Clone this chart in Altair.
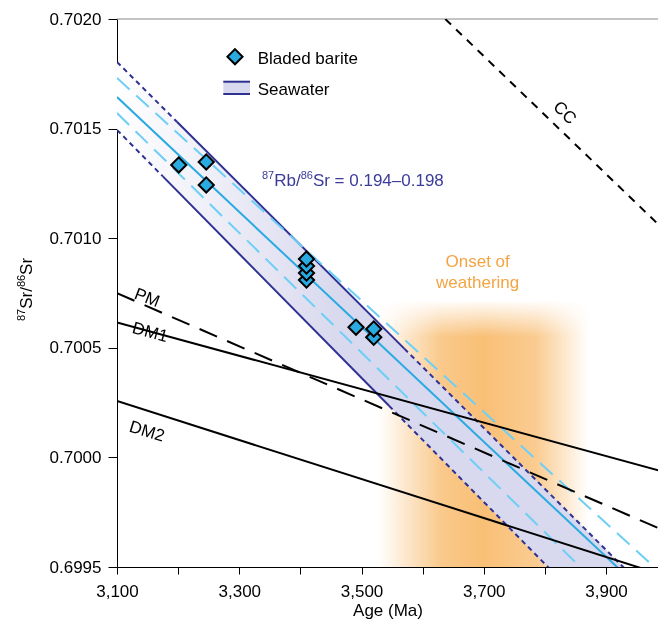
import altair as alt
import pandas as pd

# ---------------- data ----------------
X_DOMAIN = [3100, 3985]
Y_DOMAIN = [0.6995, 0.7020]

barite_age = [3201, 3246, 3246, 3410, 3410, 3410, 3410, 3491, 3520, 3520]
barite_sr = [0.701334, 0.701348, 0.701243, 0.700905, 0.700873, 0.700841,
             0.700809, 0.700594, 0.700586, 0.700548]

# reference reservoir lines (two read points each)
cc_age, cc_sr = [3637, 4000], [0.70200, 0.701024]
pm_age, pm_sr = [3100, 4000], [0.700749, 0.699660]
dm1_age, dm1_sr = [3100, 4000], [0.700616, 0.699930]
dm2_age, dm2_sr = [3100, 4000], [0.700257, 0.699457]

# seawater evolution lines (two read points each)
sw_up_age, sw_up_sr = [3100, 3928], [0.701804, 0.69950]
sw_lo_age, sw_lo_sr = [3100, 3805], [0.701494, 0.69950]
cyan_age, cyan_sr = [3100, 3918], [0.701644, 0.69950]
lb_up_age, lb_up_sr = [3100, 3972], [0.701731, 0.699518]
lb_lo_age, lb_lo_sr = [3100, 3858], [0.701571, 0.69950]

# age ranges where the band edges are solid
sw_up_solid = [3198, 3570]
sw_lo_solid = [3175, 3545]

# onset of weathering glow
onset_age = [3528, 3872]
onset_top = 0.70071
onset_fade = 0.70055

# label positions
line_labels = pd.DataFrame({
    "age": [3149, 3154, 3149, 3832],
    "sr": [0.700727, 0.700569, 0.700117, 0.701571],
    "text": ["PM", "DM1", "DM2", "CC"],
    "angle": [21, 15, 17, 44],
})

FONT = "Liberation Sans"
DARKBLUE = "#2e3192"
TEXTBLUE = "#3b3b9a"
CYAN = "#29abe2"
LIGHTBLUE = "#6dcff6"
LAVENDER = "#d8d8ee"
ORANGE_TXT = "#f3a443"

PLOT_W, PLOT_H = 541, 548


def seg(a, v, a_from, a_to):
    s = (v[1] - v[0]) / (a[1] - a[0])
    ages = [a_from, a_to]
    return pd.DataFrame({"age": ages, "sr": [v[0] + s * (t - a[0]) for t in ages]})


def at(a, v, t):
    s = (v[1] - v[0]) / (a[1] - a[0])
    return v[0] + s * (t - a[0])


xs = alt.Scale(domain=X_DOMAIN, nice=False, zero=False)
ys = alt.Scale(domain=Y_DOMAIN, nice=False, zero=False)

X = alt.X("age:Q", scale=xs, title="Age (Ma)",
          axis=alt.Axis(values=list(range(3100, 3901, 100)),
                        labelExpr="datum.value % 200 == 100 ? format(datum.value, ',') : ''",
                        labelFlush=False, labelOverlap=False,
                        tickSize=7, labelPadding=9, titlePadding=3))
Y = alt.Y("sr:Q", scale=ys, title=None,
          axis=alt.Axis(values=[0.6995, 0.7000, 0.7005, 0.7010, 0.7015, 0.7020],
                        format=".4f", tickSize=9, labelPadding=7,
                        labelFlush=False, labelOverlap=False))


def line_chart(df, color, width, dash=None):
    kw = dict(color=color, strokeWidth=width, clip=True)
    if dash:
        kw["strokeDash"] = dash
    return alt.Chart(df).mark_line(**kw).encode(x=X, y=Y)


one = pd.DataFrame({"k": [0]})
layers = []

# top frame line
layers.append(alt.Chart(one).mark_rule(color="#888888", strokeWidth=1).encode(
    x=alt.value(0), x2=alt.value(PLOT_W), y=alt.value(0)))

# onset of weathering: horizontal glow + white fade at top
onset_df = pd.DataFrame({"age": [onset_age[0]], "age2": [onset_age[1]],
                         "sr": [onset_top], "sr2": [Y_DOMAIN[0]]})
layers.append(alt.Chart(onset_df).mark_rect(
    color=alt.LinearGradient(gradient="linear", x1=0, x2=1, y1=0, y2=0, stops=[
        alt.GradientStop(color="rgba(249,191,118,0)", offset=0),
        alt.GradientStop(color="rgba(249,191,118,0.85)", offset=0.3),
        alt.GradientStop(color="rgba(249,191,118,1)", offset=0.5),
        alt.GradientStop(color="rgba(249,191,118,0.8)", offset=0.75),
        alt.GradientStop(color="rgba(249,191,118,0)", offset=1)])
).encode(x=X, x2="age2:Q", y=Y, y2="sr2:Q"))
fade_df = pd.DataFrame({"age": [onset_age[0]], "age2": [onset_age[1]],
                        "sr": [onset_top + 0.00001], "sr2": [onset_fade]})
layers.append(alt.Chart(fade_df).mark_rect(
    color=alt.LinearGradient(gradient="linear", x1=0, x2=0, y1=0, y2=1, stops=[
        alt.GradientStop(color="rgba(255,255,255,1)", offset=0),
        alt.GradientStop(color="rgba(255,255,255,0)", offset=1)])
).encode(x=X, x2="age2:Q", y=Y, y2="sr2:Q"))

# seawater band
band_ages = [3100, sw_lo_age[1], sw_up_age[1]]
band_df = pd.DataFrame({
    "age": band_ages,
    "sr": [at(sw_up_age, sw_up_sr, t) for t in band_ages],
    "sr2": [max(at(sw_lo_age, sw_lo_sr, t), Y_DOMAIN[0]) for t in band_ages],
})
layers.append(alt.Chart(band_df).mark_area(
    clip=True, blend="multiply",
    color=alt.LinearGradient(gradient="linear", x1=0, x2=1, y1=0, y2=0, stops=[
        alt.GradientStop(color="#ffffff", offset=0),
        alt.GradientStop(color=LAVENDER, offset=0.45),
        alt.GradientStop(color=LAVENDER, offset=1)])
).encode(x=X, y=Y, y2="sr2:Q"))

# band edges
layers.append(line_chart(seg(sw_up_age, sw_up_sr, 3100, sw_up_solid[0]), DARKBLUE, 2, [5, 4]))
layers.append(line_chart(seg(sw_up_age, sw_up_sr, *sw_up_solid), DARKBLUE, 2))
layers.append(line_chart(seg(sw_up_age, sw_up_sr, sw_up_solid[1], 4000), DARKBLUE, 2, [5, 4]))
layers.append(line_chart(seg(sw_lo_age, sw_lo_sr, 3100, sw_lo_solid[0]), DARKBLUE, 2, [5, 4]))
layers.append(line_chart(seg(sw_lo_age, sw_lo_sr, *sw_lo_solid), DARKBLUE, 2))
layers.append(line_chart(seg(sw_lo_age, sw_lo_sr, sw_lo_solid[1], 4000), DARKBLUE, 2, [5, 4]))

# inner seawater lines
layers.append(line_chart(seg(lb_up_age, lb_up_sr, 3100, 4000), LIGHTBLUE, 2, [17, 9]))
layers.append(line_chart(seg(lb_lo_age, lb_lo_sr, 3100, 4000), LIGHTBLUE, 2, [17, 9]))
layers.append(line_chart(seg(cyan_age, cyan_sr, 3100, 4000), CYAN, 2))

# reservoir lines
layers.append(line_chart(seg(pm_age, pm_sr, 3100, 4000), "black", 2, [19, 11]))
layers.append(line_chart(seg(dm1_age, dm1_sr, 3100, 4000), "black", 2))
layers.append(line_chart(seg(dm2_age, dm2_sr, 3100, 4000), "black", 2))
layers.append(line_chart(seg(cc_age, cc_sr, cc_age[0], 4000), "black", 2, [8, 7]))

# barite points (lowest drawn first)
pts = pd.DataFrame({"age": barite_age, "sr": barite_sr}).sort_values("sr")
layers.append(alt.Chart(pts).mark_point(
    shape="diamond", size=230, filled=True, fill=CYAN, stroke="black",
    strokeWidth=2, opacity=1).encode(x=X, y=Y))

# line labels
for _, r in line_labels.iterrows():
    layers.append(alt.Chart(pd.DataFrame([r])).mark_text(
        font=FONT, fontSize=17, color="black", angle=int(r["angle"]),
        align="center", baseline="middle").encode(x=X, y=Y, text="text:N"))

# onset text
onset_txt = pd.DataFrame({"age": [3690, 3690], "sr": [0.700891, 0.700795],
                          "text": ["Onset of", "weathering"]})
layers.append(alt.Chart(onset_txt).mark_text(
    font=FONT, fontSize=17, color=ORANGE_TXT, align="center", baseline="middle"
).encode(x=X, y=Y, text="text:N"))


def ptext(txt, px, py, size, color="black", angle=0, align="left", baseline="alphabetic"):
    kw = dict(text=txt, font=FONT, fontSize=size, color=color, align=align, baseline=baseline)
    if angle:
        kw["angle"] = angle
    return alt.Chart(one).mark_text(**kw).encode(x=alt.value(px), y=alt.value(py))


# 87Rb/86Sr annotation
x0, base = 145, 166.7
layers.append(ptext("87", x0, base - 7, 11, TEXTBLUE))
layers.append(ptext("Rb/", x0 + 12.2, base, 17, TEXTBLUE))
layers.append(ptext("86", x0 + 12.2 + 26.5, base - 7, 11, TEXTBLUE))
layers.append(ptext("Sr = 0.194\u20130.198", x0 + 24.4 + 26.5, base, 17, TEXTBLUE))

# y-axis title 87Sr/86Sr (rotated)
yb, xb = 302, -85
layers.append(ptext("87", xb - 7, yb, 11, angle=270))
layers.append(ptext("Sr/", xb, yb - 12.2, 17, angle=270))
layers.append(ptext("86", xb - 7, yb - 12.2 - 21.7, 11, angle=270))
layers.append(ptext("Sr", xb, yb - 24.4 - 21.7, 17, angle=270))

# legend
layers.append(alt.Chart(one).mark_point(
    shape="diamond", size=230, filled=True, fill=CYAN, stroke="black",
    strokeWidth=2, opacity=1).encode(x=alt.value(118), y=alt.value(37.7)))
layers.append(ptext("Bladed barite", 140.7, 39.5, 17, baseline="middle"))
layers.append(alt.Chart(one).mark_rect(color=LAVENDER).encode(
    x=alt.value(106.3), x2=alt.value(133), y=alt.value(62.7), y2=alt.value(75)))
layers.append(alt.Chart(one).mark_rule(color=DARKBLUE, strokeWidth=2).encode(
    x=alt.value(106.3), x2=alt.value(133), y=alt.value(62.7)))
layers.append(alt.Chart(one).mark_rule(color=DARKBLUE, strokeWidth=2).encode(
    x=alt.value(106.3), x2=alt.value(133), y=alt.value(75)))
layers.append(ptext("Seawater", 140.7, 70.5, 17, baseline="middle"))

chart = alt.layer(*layers).properties(
    width=PLOT_W, height=PLOT_H,
    autosize=alt.AutoSizeParams(type="none"),
    padding={"left": 109, "top": 11, "right": 0, "bottom": 53},
).configure_view(strokeWidth=0).configure_axis(
    labelFont=FONT, titleFont=FONT, labelFontSize=17, titleFontSize=17,
    titleFontWeight="normal", labelColor="black", titleColor="black",
    domainColor="black", tickColor="black", grid=False, domainWidth=1, tickWidth=1,
)

chart.save("out.html", embed_options={"renderer": "svg", "actions": False})
